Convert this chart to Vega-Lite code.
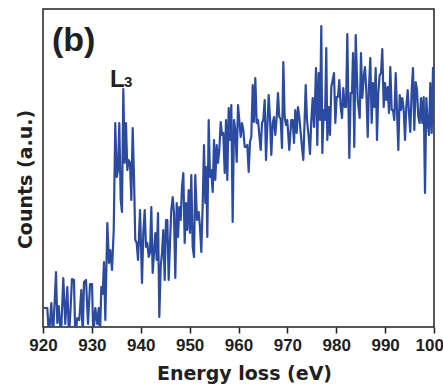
{
  "$schema": "https://vega.github.io/schema/vega-lite/v6.json",
  "width": 391,
  "height": 318,
  "autosize": {"type": "none"},
  "padding": {"left": 43, "top": 9, "right": 9, "bottom": 58},
  "background": "white",
  "config": {
    "view": {"stroke": "#231f20", "strokeWidth": 1.5},
    "axis": {"grid": false}
  },
  "datasets": {
    "spec": [
      {"e":920.20,"c":19},{"e":920.88,"c":19},{"e":921.23,"c":-10},{"e":921.70,"c":24},{"e":922.05,"c":-10},
      {"e":922.66,"c":55},{"e":922.93,"c":4},{"e":923.21,"c":21},{"e":923.68,"c":-10},{"e":924.15,"c":49},
      {"e":924.56,"c":3},{"e":924.97,"c":40},{"e":925.32,"c":-10},{"e":925.67,"c":21},{"e":925.93,"c":48},
      {"e":926.34,"c":47},{"e":926.61,"c":-10},{"e":927.02,"c":9},{"e":927.43,"c":7},{"e":927.84,"c":37},
      {"e":928.12,"c":-10},{"e":928.39,"c":45},{"e":928.80,"c":47},{"e":929.21,"c":3},{"e":929.62,"c":43},
      {"e":930.03,"c":43},{"e":930.29,"c":-10},{"e":930.70,"c":19},{"e":931.11,"c":3},{"e":931.40,"c":19},
      {"e":931.66,"c":-10},{"e":931.93,"c":40},{"e":932.21,"c":33},{"e":932.48,"c":65},{"e":932.75,"c":7},
      {"e":933.16,"c":104},{"e":933.50,"c":64},{"e":933.77,"c":77},{"e":934.12,"c":57},{"e":934.47,"c":97},
      {"e":934.79,"c":204},{"e":935.08,"c":150},{"e":935.35,"c":157},{"e":935.61,"c":204},{"e":935.90,"c":127},
      {"e":936.16,"c":115},{"e":936.43,"c":238},{"e":936.72,"c":164},{"e":936.98,"c":204},{"e":937.25,"c":157},
      {"e":937.53,"c":167},{"e":937.80,"c":164},{"e":938.07,"c":127},{"e":938.35,"c":199},{"e":938.62,"c":150},
      {"e":938.88,"c":87},{"e":939.17,"c":84},{"e":939.44,"c":67},{"e":939.85,"c":117},{"e":940.26,"c":44},
      {"e":940.52,"c":94},{"e":940.81,"c":117},{"e":941.07,"c":80},{"e":941.34,"c":84},{"e":941.63,"c":70},
      {"e":941.89,"c":74},{"e":942.16,"c":120},{"e":942.44,"c":54},{"e":942.71,"c":74},{"e":942.98,"c":94},
      {"e":943.26,"c":67},{"e":943.53,"c":114},{"e":943.80,"c":10},{"e":944.08,"c":60},{"e":944.35,"c":74},
      {"e":944.61,"c":97},{"e":944.90,"c":47},{"e":945.17,"c":107},{"e":945.43,"c":107},{"e":945.72,"c":47},
      {"e":945.98,"c":84},{"e":946.25,"c":117},{"e":946.54,"c":130},{"e":946.80,"c":114},{"e":947.07,"c":49},
      {"e":947.36,"c":124},{"e":947.62,"c":90},{"e":947.89,"c":120},{"e":948.17,"c":107},{"e":948.44,"c":140},
      {"e":948.71,"c":154},{"e":948.99,"c":84},{"e":949.26,"c":124},{"e":949.52,"c":97},{"e":949.81,"c":137},
      {"e":950.08,"c":94},{"e":950.34,"c":152},{"e":950.63,"c":80},{"e":950.90,"c":70},{"e":951.16,"c":152},
      {"e":951.51,"c":107},{"e":951.86,"c":115},{"e":952.12,"c":100},{"e":952.39,"c":75},{"e":952.68,"c":124},
      {"e":952.94,"c":182},{"e":953.21,"c":124},{"e":953.41,"c":160},{"e":953.62,"c":90},{"e":953.90,"c":207},
      {"e":954.17,"c":150},{"e":954.43,"c":157},{"e":954.72,"c":135},{"e":954.99,"c":187},{"e":955.25,"c":147},
      {"e":955.54,"c":182},{"e":955.81,"c":164},{"e":956.07,"c":177},{"e":956.36,"c":205},{"e":956.62,"c":192},
      {"e":956.89,"c":194},{"e":957.18,"c":154},{"e":957.44,"c":207},{"e":957.71,"c":147},{"e":957.99,"c":219},
      {"e":958.26,"c":187},{"e":958.53,"c":222},{"e":958.81,"c":105},{"e":959.08,"c":207},{"e":959.35,"c":197},
      {"e":959.63,"c":165},{"e":959.90,"c":222},{"e":960.16,"c":207},{"e":960.45,"c":190},{"e":960.72,"c":204},
      {"e":960.98,"c":197},{"e":961.27,"c":180},{"e":961.54,"c":180},{"e":961.80,"c":182},{"e":962.09,"c":155},
      {"e":962.35,"c":185},{"e":962.62,"c":190},{"e":962.91,"c":242},{"e":963.17,"c":205},{"e":963.44,"c":249},
      {"e":963.72,"c":204},{"e":963.99,"c":207},{"e":964.26,"c":192},{"e":964.54,"c":177},{"e":964.81,"c":204},
      {"e":965.07,"c":207},{"e":965.36,"c":227},{"e":965.63,"c":167},{"e":965.89,"c":200},{"e":966.18,"c":232},
      {"e":966.45,"c":208},{"e":966.71,"c":172},{"e":967.00,"c":204},{"e":967.26,"c":210},{"e":967.53,"c":192},
      {"e":967.82,"c":210},{"e":968.08,"c":234},{"e":968.35,"c":210},{"e":968.63,"c":208},{"e":968.90,"c":179},
      {"e":969.17,"c":265},{"e":969.45,"c":210},{"e":969.72,"c":202},{"e":969.98,"c":207},{"e":970.39,"c":177},
      {"e":970.80,"c":207},{"e":971.09,"c":207},{"e":971.36,"c":184},{"e":971.62,"c":217},{"e":971.91,"c":194},
      {"e":972.17,"c":220},{"e":972.44,"c":210},{"e":972.73,"c":194},{"e":972.99,"c":180},{"e":973.26,"c":167},
      {"e":973.55,"c":210},{"e":973.75,"c":242},{"e":974.02,"c":207},{"e":974.36,"c":190},{"e":974.63,"c":173},
      {"e":974.90,"c":207},{"e":975.18,"c":229},{"e":975.45,"c":200},{"e":975.65,"c":225},{"e":975.86,"c":259},
      {"e":976.12,"c":182},{"e":976.41,"c":254},{"e":976.68,"c":207},{"e":976.94,"c":301},{"e":977.15,"c":174},
      {"e":977.43,"c":217},{"e":977.70,"c":207},{"e":977.96,"c":279},{"e":978.17,"c":187},{"e":978.46,"c":220},
      {"e":978.72,"c":192},{"e":978.99,"c":240},{"e":979.27,"c":247},{"e":979.54,"c":254},{"e":979.81,"c":204},
      {"e":980.09,"c":230},{"e":980.36,"c":230},{"e":980.62,"c":247},{"e":980.91,"c":220},{"e":981.18,"c":209},
      {"e":981.44,"c":239},{"e":981.73,"c":220},{"e":982.00,"c":220},{"e":982.26,"c":293},{"e":982.67,"c":169},
      {"e":982.96,"c":234},{"e":983.22,"c":234},{"e":983.43,"c":274},{"e":983.69,"c":180},{"e":983.98,"c":292},
      {"e":984.39,"c":227},{"e":984.80,"c":209},{"e":985.06,"c":274},{"e":985.33,"c":229},{"e":985.62,"c":250},
      {"e":985.88,"c":260},{"e":986.15,"c":237},{"e":986.44,"c":190},{"e":986.70,"c":240},{"e":986.97,"c":269},
      {"e":987.25,"c":204},{"e":987.52,"c":244},{"e":987.79,"c":220},{"e":988.07,"c":259},{"e":988.34,"c":187},
      {"e":988.60,"c":234},{"e":988.89,"c":252},{"e":989.16,"c":254},{"e":989.42,"c":278},{"e":989.71,"c":220},
      {"e":989.97,"c":244},{"e":990.24,"c":227},{"e":990.53,"c":240},{"e":990.79,"c":214},{"e":991.06,"c":260},
      {"e":991.34,"c":217},{"e":991.61,"c":217},{"e":991.88,"c":207},{"e":992.16,"c":254},{"e":992.43,"c":217},
      {"e":992.70,"c":177},{"e":992.98,"c":232},{"e":993.25,"c":217},{"e":993.51,"c":229},{"e":993.80,"c":217},
      {"e":994.07,"c":187},{"e":994.33,"c":220},{"e":994.62,"c":237},{"e":994.88,"c":214},{"e":995.15,"c":195},
      {"e":995.44,"c":237},{"e":995.70,"c":259},{"e":995.97,"c":197},{"e":996.26,"c":245},{"e":996.52,"c":237},
      {"e":996.79,"c":210},{"e":997.07,"c":204},{"e":997.34,"c":229},{"e":997.61,"c":204},{"e":997.89,"c":230},
      {"e":998.16,"c":134},{"e":998.43,"c":229},{"e":998.71,"c":204},{"e":998.98,"c":192},{"e":999.24,"c":244},
      {"e":999.53,"c":194},{"e":999.80,"c":260}
    ],
    "notes": [
      {"e": 921.84, "c": 276, "t": "(b)", "size": 34},
      {"e": 933.71, "c": 240, "t": "L", "size": 24},
      {"e": 936.57, "c": 240, "t": "3", "size": 15}
    ]
  },
  "layer": [
    {
      "data": {"name": "spec"},
      "mark": {"type": "line", "color": "#2b4ba0", "strokeWidth": 2.2, "clip": true, "strokeJoin": "round"},
      "encoding": {
        "x": {
          "field": "e", "type": "quantitative",
          "scale": {"domain": [920, 1000], "nice": false, "zero": false},
          "axis": {
            "title": "Energy loss (eV)",
            "values": [920,925,930,935,940,945,950,955,960,965,970,975,980,985,990,995,1000],
            "format": "d",
            "labelExpr": "datum.value % 10 === 0 ? datum.label : ''",
            "domain": false,
            "tickColor": "#231f20",
            "tickWidth": 1.5,
            "tickSize": {"condition": {"test": "datum.value % 10 === 0", "value": 6}, "value": 4},
            "labelFont": "Liberation Sans",
            "labelFontWeight": "bold",
            "labelFontSize": 17,
            "labelColor": "#231f20",
            "labelPadding": 4,
            "labelFlush": false,
            "labelOverlap": false,
            "titleFont": "DejaVu Sans",
            "titleFontWeight": "bold",
            "titleFontSize": 19,
            "titleColor": "#231f20",
            "titlePadding": 11,
            "titleX": 201
          }
        },
        "y": {
          "field": "c", "type": "quantitative",
          "scale": {"domain": [0, 318], "nice": false, "zero": false},
          "axis": {
            "title": "Counts (a.u.)",
            "domain": false,
            "ticks": false,
            "labels": false,
            "titleFont": "DejaVu Sans",
            "titleFontWeight": "bold",
            "titleFontSize": 19,
            "titleColor": "#231f20",
            "titlePadding": 8,
            "titleY": 170
          }
        }
      }
    },
    {
      "data": {"name": "notes"},
      "mark": {"type": "text", "align": "left", "baseline": "alphabetic", "font": "Liberation Sans", "fontWeight": "bold", "color": "#231f20"},
      "encoding": {
        "x": {"field": "e", "type": "quantitative"},
        "y": {"field": "c", "type": "quantitative"},
        "text": {"field": "t"},
        "size": {"field": "size", "type": "quantitative", "scale": null, "legend": null}
      }
    }
  ]
}
